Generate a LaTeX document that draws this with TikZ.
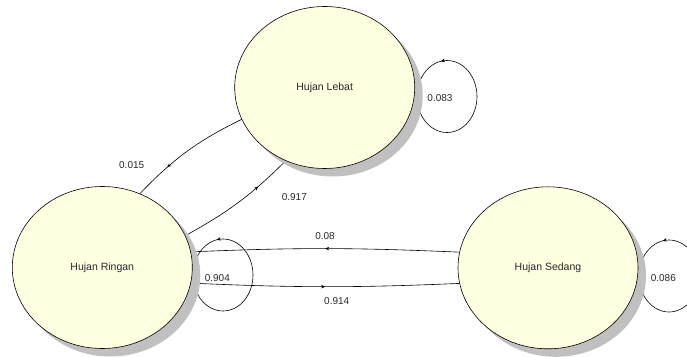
\documentclass[tikz,border=0pt]{standalone}
\usepackage{fontspec}
\setmainfont{Liberation Sans}
\usetikzlibrary{shapes.geometric,shadows,decorations.markings,backgrounds,arrows.meta}
\definecolor{stateyellow}{RGB}{255,255,225}
\definecolor{shadowgray}{RGB}{192,192,192}
\definecolor{textgray}{RGB}{40,40,40}
\tikzset{
	state/.style={ellipse, draw, line width=0.6pt, fill=stateyellow, minimum width=180pt, minimum height=162pt, inner sep=0pt, text=textgray, font=\fontsize{10.5}{12}\selectfont, drop shadow={shadow xshift=8pt, shadow yshift=-8pt, fill=shadowgray, opacity=1}},
	trans/.style={line width=0.6pt, postaction={decorate}, decoration={markings, mark=at position #1 with {\arrow{Stealth[length=4pt,width=3.5pt]}}}},
	prob/.style={text=textgray, font=\fontsize{10}{12}\selectfont},
}
\begin{document}
\begin{tikzpicture}[x=1pt, y=1pt]
	\useasboundingbox (0,0) rectangle (687,356);
	\node[state] at (324.7,268.5) (lebat) {Hujan Lebat};
	\node[state] at (102.3,88.5)  (ringan) {Hujan Ringan};
	\node[state] at (548,88.2)    (sedang) {Hujan Sedang};
	%
	\begin{scope}[on background layer]
		\draw[trans=0.7] (lebat.201) to [bend right=10] (ringan.63);
		\draw[trans=0.7] (ringan.21) to [bend right=8] (lebat.242);
		\draw[trans=0.5] (sedang.170) to [bend right=2.5] (ringan.10);
		\draw[trans=0.5] (ringan.-10) to [bend right=2.5] (sedang.190);
		% loops
		\draw[trans=0.28] (lebat.center) ++(122.3,-9) ellipse (30pt and 36pt);
		\draw[trans=0.28] (ringan.center) ++(120.7,-7.5) ellipse (30pt and 36pt);
		\draw[trans=0.28] (sedang.center) ++(121,-8.2) ellipse (30pt and 36pt);
	\end{scope}
	%
	\node[prob] at (131.7,191)   (p1) {0.015};
	\node[prob] at (294.3,158.7) (p2) {0.917};
	\node[prob] at (325,120)     (p3) {0.08};
	\node[prob] at (336.7,55.3)  (p4) {0.914};
	\node[prob] at (440,257.7)   (p5) {0.083};
	\node[prob] at (217.3,77.7)  (p6) {0.904};
	\node[prob] at (663.3,77.7)  (p7) {0.086};
\end{tikzpicture}
\end{document}
